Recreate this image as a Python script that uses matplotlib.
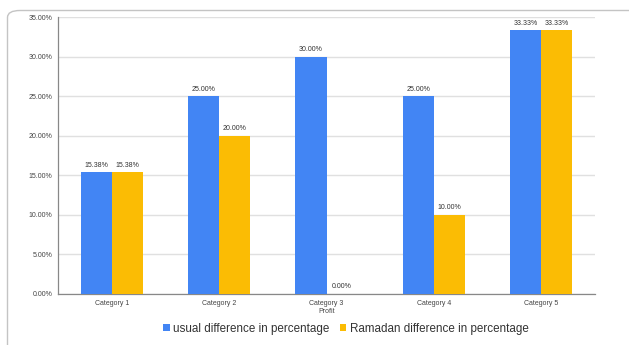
import matplotlib
matplotlib.use("Agg")
import matplotlib.pyplot as plt
from matplotlib.patches import FancyBboxPatch
import numpy as np

categories = ["Category 1", "Category 2", "Category 3\nProfit", "Category 4", "Category 5"]
usual = [15.38, 25.00, 30.00, 25.00, 33.33]
ramadan = [15.38, 20.00, 0.00, 10.00, 33.33]
series_names = ["usual difference in percentage", "Ramadan difference in percentage"]
yticks = [0, 5, 10, 15, 20, 25, 30, 35]

BLUE = "#4285F4"
YELLOW = "#FBBC04"
FONT = ["Liberation Sans", "DejaVu Sans"]
plt.rcParams["font.family"] = FONT

W, H = 629, 345
fig = plt.figure(figsize=(W / 100, H / 100), dpi=100)
fig.patch.set_facecolor("white")

# rounded outer card border (top and left edges visible)
card = FancyBboxPatch((7.5 / W, -0.2), 1.2, 1.2 - 10.5 / H,
                      boxstyle="round,pad=0,rounding_size=0.02",
                      transform=fig.transFigure, facecolor="none",
                      edgecolor="#c4c4c4", linewidth=1.0, zorder=0)
fig.patches.append(card)

ax = fig.add_axes([58 / W, 1 - 294 / H, (595 - 58) / W, (294 - 17) / H])
x = np.arange(len(categories))
bw = 0.29
b1 = ax.bar(x - bw / 2, usual, bw, color=BLUE, label=series_names[0], zorder=3)
b2 = ax.bar(x + bw / 2, ramadan, bw, color=YELLOW, label=series_names[1], zorder=3)

for bars, vals in ((b1, usual), (b2, ramadan)):
    for rect, v in zip(bars, vals):
        ax.text(rect.get_x() + rect.get_width() / 2, v + 0.45, f"{v:.2f}%",
                ha="center", va="bottom", fontsize=5, color="#333333")

ax.set_xlim(-0.5, len(categories) - 0.5)
ax.set_ylim(0, 35)
ax.set_yticks(yticks)
ax.set_yticklabels([f"{t:.2f}%" for t in yticks], fontsize=5, color="#444444")
ax.set_xticks(x)
ax.set_xticklabels(categories, fontsize=5, color="#444444", linespacing=1.3)
ax.tick_params(length=0, pad=4)
ax.grid(axis="y", color="#e0e0e0", linewidth=1.0, zorder=0)
for s in ("top", "right"):
    ax.spines[s].set_visible(False)
ax.spines["left"].set_color("#888888")
ax.spines["bottom"].set_color("#888888")
ax.spines["left"].set_linewidth(0.9)
ax.spines["bottom"].set_linewidth(0.9)

leg = fig.legend(handles=[b1, b2], labels=series_names, loc="center",
                 bbox_to_anchor=(346 / W, 1 - 329 / H), ncol=2, frameon=False,
                 fontsize=8.4, handlelength=0.55, handleheight=0.55,
                 handletextpad=0.3, columnspacing=0.9)
for t in leg.get_texts():
    t.set_color("#333333")

fig.savefig("out.png", dpi=100)
